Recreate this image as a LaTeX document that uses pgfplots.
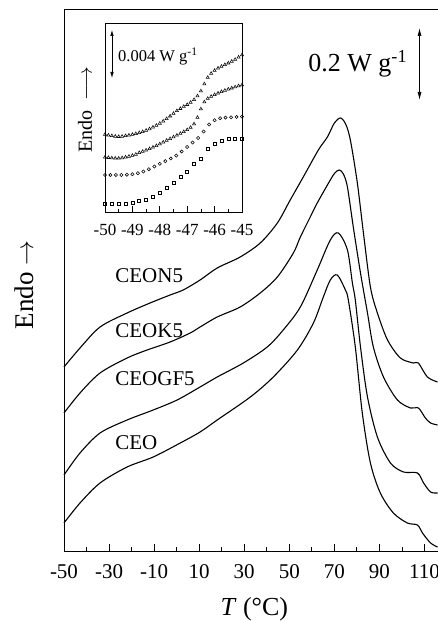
\documentclass[border=0pt]{standalone}
\usepackage{fontspec}
\setmainfont{Liberation Serif}
\usepackage{pgfplots}
\pgfplotsset{compat=1.18}
\usetikzlibrary{arrows.meta}

\pgfplotsset{
  trace/.style={black, mark=none, line width=1.1pt, smooth, tension=0.5},
  dots/.style={black, only marks, mark options={line width=0.55pt, solid}},
}

\begin{document}
\begin{tikzpicture}[x=1pt,y=1pt]
\useasboundingbox (0,0) rectangle (438,621);
% main DSC traces
\begin{axis}[
  at={(64pt,70pt)}, anchor=south west,
  scale only axis, width=374pt, height=542pt,
  xmin=-50, xmax=116, ymin=0, ymax=542,
  clip=false,
  axis x line*=bottom, axis y line*=left,
  axis line style={-, line width=0.8pt},
  xtick={-50,-30,...,110},
  xticklabels={-50,-30,-10,10,30,50,70,90,110},
  minor xtick={-40,-20,...,100},
  ytick=\empty,
  tick align=inside,
  major tick length=7pt, minor tick length=4pt,
  tick style={black, line width=0.8pt},
  xticklabel style={font=\fontsize{21}{24}\selectfont, yshift=-10pt},
  xlabel={\textit{T} (°C)},
  ylabel={Endo\ $\rightarrow$},
  every axis x label/.style={at={(axis description cs:0.509,-0.108)}, anchor=center, font=\fontsize{26}{30}\selectfont},
  every axis y label/.style={at={(axis description cs:-0.107,0.491)}, rotate=90, anchor=center, font=\fontsize{27}{30}\selectfont},
]
\draw[line width=0.8pt] (rel axis cs:0,1) -- (rel axis cs:1,1);

% CEON5
\addplot[trace] coordinates {
(-50,184) (-42.9,203) (-34.0,224) (-22.0,238) (-11.8,248) (-2.9,256) (2.9,261)
(10.4,271) (18.0,283) (28.2,294) (37.1,308) (44.7,328) (50.4,351) (56.2,374)
(62.9,401) (66.9,414) (70.0,428) (72.7,433) (75.0,427) (77.1,411) (80.2,368)
(82.9,318) (86.0,264) (89.1,238) (93.6,211) (99.3,193) (105.1,188) (107.3,188)
(111.3,174) (115.8,169)};
% CEOK5
\addplot[trace] coordinates {
(-50,138) (-42.9,158) (-34.0,178) (-22.0,193) (-13.1,201) (-2.9,209) (6.0,218)
(10.4,224) (18.0,234) (28.2,244) (37.1,258) (44.7,274) (51.8,298) (54.9,314)
(59.3,334) (62.4,348) (68.2,371) (70.2,378) (72.2,381) (74.0,377) (75.8,364)
(78.4,324) (81.6,278) (84.7,238) (87.3,204) (91.8,174) (98.0,151) (103.8,143)
(107.3,143) (110.4,133) (112.7,128) (115.8,126)};
% CEOGF5
\addplot[trace] coordinates {
(-50,76) (-42.9,98) (-34.0,118) (-22.0,131) (-10.4,141) (0.2,151) (10.4,164)
(18.0,174) (29.6,188) (40.2,204) (47.3,221) (54.9,244) (62.4,281) (68.2,311)
(71.8,318) (75.8,301) (78.0,268) (79.3,251) (81.6,204) (84.7,154) (89.1,114)
(94.9,88) (100.7,79) (106.9,78) (109.6,68) (112.7,59) (115.8,58)};
% CEO
\addplot[trace] coordinates {
(-50,28) (-42.9,48) (-34.0,68) (-22.0,84) (-10.4,94) (1.6,108) (10.4,119)
(18.0,131) (32.7,154) (42.9,174) (53.6,201) (60.7,228) (65.1,254) (68.2,271)
(71.3,276) (74.9,261) (76.2,251) (79.3,204) (82.4,138) (86.0,88) (90.4,58)
(96.2,38) (102.4,28) (106.9,26) (109.1,18) (112.7,8) (115.8,4)};

\node[anchor=west, inner sep=0pt, font=\fontsize{21}{24}\selectfont] at (axis cs:-27.3,275) {CEON5};
\node[anchor=west, inner sep=0pt, font=\fontsize{21}{24}\selectfont] at (axis cs:-27.3,220) {CEOK5};
\node[anchor=west, inner sep=0pt, font=\fontsize{21}{24}\selectfont] at (axis cs:-27.3,172) {CEOGF5};
\node[anchor=west, inner sep=0pt, font=\fontsize{21}{24}\selectfont] at (axis cs:-27.3,108) {CEO};

\node[anchor=base west, inner sep=0pt, font=\fontsize{26}{30}\selectfont] at (axis cs:58.4,479) {0.2 W g\textsuperscript{-1}};
\draw[{Latex[length=8pt,width=4pt]}-{Latex[length=8pt,width=4pt]}, line width=0.7pt] (axis cs:107.8,523) -- (axis cs:107.8,451);
\end{axis}

% inset: glass transition region
\begin{axis}[
  at={(105pt,409pt)}, anchor=south west,
  scale only axis, width=137pt, height=189pt,
  xmin=-50, xmax=-45, ymin=0, ymax=189,
  clip=false,
  axis line style={line width=0.8pt},
  xtick={-50,-49,...,-45},
  xticklabels={-50,-49,-48,-47,-46,-45},
  minor xtick={-49.5,-48.5,...,-45.5},
  xtick pos=left,
  ytick=\empty,
  tick align=inside,
  major tick length=6pt, minor tick length=3pt,
  tick style={black, line width=0.7pt},
  xticklabel style={font=\fontsize{17}{20}\selectfont, yshift=-9pt},
  ylabel={Endo \ $\longrightarrow$},
  every axis y label/.style={at={(axis description cs:-0.146,0.54)}, rotate=90, anchor=center, font=\fontsize{20}{24}\selectfont},
]
\addplot[dots, mark=triangle, mark size=1.8pt] coordinates {
(-50.0,77.5) (-49.875,76.8) (-49.75,76.2) (-49.625,75.6) (-49.5,75.4) (-49.375,75.6)
(-49.25,76.2) (-49.125,76.8) (-49.0,77.5) (-48.875,78.3) (-48.75,79.2) (-48.625,80.3)
(-48.5,81.6) (-48.375,83.1) (-48.25,84.8) (-48.125,86.6) (-48.0,88.6) (-47.875,90.8)
(-47.75,93.3) (-47.625,95.9) (-47.5,98.5) (-47.375,101.2) (-47.25,103.4) (-47.125,105.5)
(-47.0,107.4) (-46.875,109.6) (-46.75,112.3) (-46.625,116) (-46.5,121) (-46.375,128)
(-46.25,134.5) (-46.125,138.5) (-46.0,141.5) (-45.875,143.8) (-45.75,145.6) (-45.625,147.3)
(-45.5,148.9) (-45.375,150.6) (-45.25,152.5) (-45.125,154.8) (-45.0,157)};
\addplot[dots, mark=triangle, mark size=1.8pt] coordinates {
(-50.0,54.8) (-49.875,54.4) (-49.75,54.0) (-49.625,53.7) (-49.5,53.7) (-49.375,54.1)
(-49.25,54.8) (-49.125,55.6) (-49.0,56.5) (-48.875,57.6) (-48.75,59.3) (-48.625,60.5)
(-48.5,61.8) (-48.375,63.2) (-48.25,64.7) (-48.125,66.3) (-48.0,68.0) (-47.875,69.8)
(-47.75,71.6) (-47.625,73.3) (-47.5,75.0) (-47.375,76.7) (-47.25,78.5) (-47.125,80.3)
(-47.0,82.2) (-46.875,84.5) (-46.75,88) (-46.625,94.5) (-46.5,103) (-46.375,110)
(-46.25,113.5) (-46.125,115.5) (-46.0,117.3) (-45.875,118.8) (-45.75,120.3) (-45.625,121.6)
(-45.5,122.8) (-45.375,123.9) (-45.25,125.0) (-45.125,126.1) (-45.0,127)};
\addplot[dots, mark=o, mark size=1.6pt] coordinates {
(-50.0,37) (-49.8,37) (-49.6,37) (-49.4,37) (-49.2,37.3) (-49.0,37.8) (-48.8,38.8)
(-48.6,40.5) (-48.4,42.8) (-48.2,45.5) (-48.0,48.2) (-47.8,50.8) (-47.6,53.5)
(-47.4,56.3) (-47.2,60.5) (-47.0,65) (-46.8,69.5) (-46.6,74) (-46.4,80.5)
(-46.2,87.5) (-46.0,91.8) (-45.8,93.8) (-45.6,94.4) (-45.4,94.7) (-45.2,95.0) (-45.0,95.3)};
\addplot[dots, mark=square, mark size=1.5pt] coordinates {
(-50,8.5) (-49.75,8.7) (-49.5,8.7) (-49.25,8.7) (-49.0,9.0) (-48.75,10.8) (-48.5,12.6)
(-48.25,14.8) (-48.0,19.5) (-47.75,24.7) (-47.5,29.7) (-47.25,35) (-47.0,40.2)
(-46.75,48.5) (-46.5,53.5) (-46.25,63) (-46.0,68) (-45.75,71.6) (-45.5,72.9)
(-45.25,73) (-45.0,72.8)};

\node[anchor=base west, inner sep=0pt, font=\fontsize{16.5}{20}\selectfont] at (rel axis cs:0.095,0.794) {0.004 W g\textsuperscript{-1}};
\draw[{Latex[length=6pt,width=3.5pt]}-{Latex[length=6pt,width=3.5pt]}, line width=0.6pt] (rel axis cs:0.051,0.963) -- (rel axis cs:0.051,0.709);
\end{axis}
\end{tikzpicture}
\end{document}
